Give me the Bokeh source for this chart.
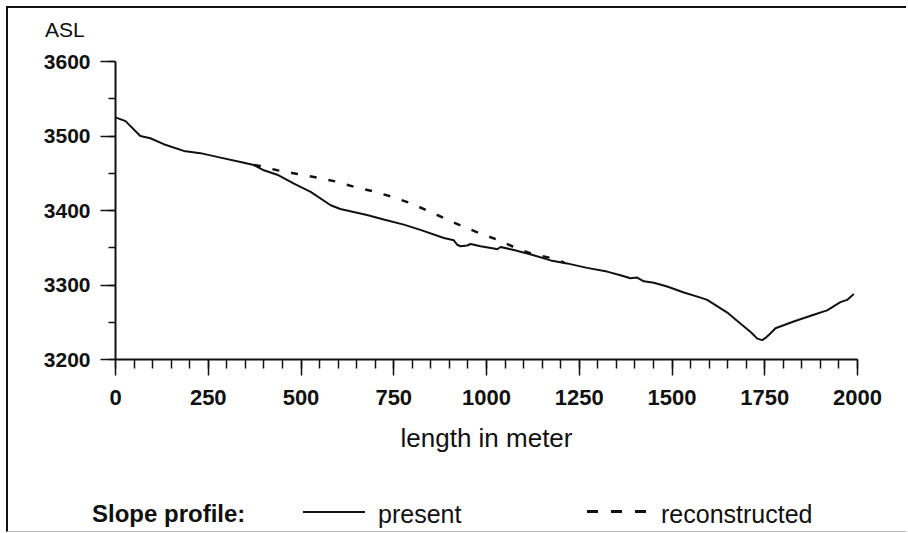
from bokeh.plotting import figure
from bokeh.models import Range1d, SingleIntervalTicker, Div
from bokeh.layouts import column
from bokeh.embed import file_html
from bokeh.resources import INLINE

# ---- data ----
present_x = [0, 27, 67, 94, 130, 184, 229, 283, 337, 373, 400, 436, 481, 526, 580, 606,
             678, 723, 777, 822, 885, 912, 921, 930, 948, 957, 984, 1020, 1029, 1038, 1074,
             1127, 1173, 1217, 1271, 1325, 1361, 1388, 1406, 1424, 1451, 1487, 1532, 1577,
             1595, 1649, 1685, 1712, 1730, 1743, 1752, 1765, 1779, 1828, 1882, 1918, 1954,
             1972, 1990]
present_y = [3525, 3520, 3500, 3497, 3489, 3480, 3477, 3471, 3465, 3461, 3454, 3448, 3436,
             3425, 3407, 3402, 3394, 3388, 3381, 3374, 3363, 3360, 3354, 3352, 3353, 3355,
             3352, 3349, 3348, 3351, 3347, 3340, 3333, 3329, 3323, 3318, 3313, 3309, 3310,
             3305, 3303, 3298, 3290, 3283, 3280, 3263, 3248, 3237, 3228, 3226, 3229, 3235,
             3242, 3251, 3260, 3266, 3277, 3280, 3288]

recon_x = [373, 386, 436, 490, 544, 593, 642, 692, 741, 795, 840, 885, 934, 984, 1033,
           1078, 1127, 1177, 1210]
recon_y = [3461, 3460, 3454, 3449, 3444, 3439, 3432, 3426, 3419, 3410, 3400, 3390, 3379,
           3369, 3360, 3350, 3341, 3336, 3330]

x_label = "length in meter"
y_label = "ASL"
legend_title = "Slope profile:"
series_names = ["present", "reconstructed"]

FONT = "Liberation Sans"
INK = "#111111"

# ---------------- top strip with the y-axis caption ----------------
top = Div(text=(f'<div style="position:relative;width:900px;height:40px;'
                f'font-family:\'{FONT}\';color:{INK};">'
                f'<span style="position:absolute;left:37px;top:10px;line-height:24px;'
                f'font-size:21px;white-space:nowrap;">{y_label}</span></div>'),
          width=900, height=40)
top.styles = {"border-top": "2px solid #111", "border-left": "2px solid #111",
              "margin": "0", "padding": "0"}

# ---------------- main chart ----------------
p = figure(width=900, height=430, x_range=Range1d(0, 2000), y_range=Range1d(3200, 3600),
           output_backend="svg", toolbar_location=None,
           min_border_left=107, min_border_right=51, min_border_top=15, min_border_bottom=117)
p.styles = {"border-left": "2px solid #111"}
p.outline_line_color = None
p.grid.visible = False

p.line(present_x, present_y, line_color=INK, line_width=2)
p.line(recon_x, recon_y, line_color=INK, line_width=2.5, line_dash="7 12")

xa = p.xaxis[0]
xa.ticker = SingleIntervalTicker(interval=250, num_minor_ticks=5)
ya = p.yaxis[0]
ya.ticker = SingleIntervalTicker(interval=100, num_minor_ticks=2)
for ax in (xa, ya):
    ax.axis_line_width = 2
    ax.axis_line_color = INK
    ax.major_tick_line_color = INK
    ax.minor_tick_line_color = INK
    ax.major_tick_line_width = 1.5
    ax.minor_tick_line_width = 1.5
    ax.major_tick_in = 0
    ax.minor_tick_in = 0
    ax.major_label_text_font = FONT
    ax.major_label_text_font_style = "bold"
    ax.major_label_text_color = INK
xa.major_tick_out = 16
xa.minor_tick_out = 9
ya.major_tick_out = 15
ya.minor_tick_out = 7
xa.major_label_text_font_size = "22px"
ya.major_label_text_font_size = "21px"
ya.major_label_standoff = 10
xa.major_label_standoff = 14
xa.axis_label = x_label
xa.axis_label_text_font = FONT
xa.axis_label_text_font_style = "normal"
xa.axis_label_text_font_size = "26px"
xa.axis_label_text_color = INK
xa.axis_label_standoff = 15

# ---------------- legend strip ----------------
def span(left, txt, size, weight):
    return (f'<span style="position:absolute;left:{left}px;top:24px;line-height:28px;'
            f'font-size:{size}px;font-weight:{weight};white-space:nowrap;">{txt}</span>')

legend_html = (
    f'<div style="position:relative;width:900px;height:56px;font-family:\'{FONT}\';color:{INK};">'
    + span(84, legend_title, 24, "bold")
    + '<div style="position:absolute;left:295px;top:35px;width:62px;height:2px;background:#111;"></div>'
    + span(370, series_names[0], 25, "normal")
    + '<div style="position:absolute;left:579px;top:34px;width:60px;height:3px;'
      'background:repeating-linear-gradient(to right,#111 0 11px,transparent 11px 24px);"></div>'
    + span(653, series_names[1], 25, "normal")
    + '</div>'
)
leg = Div(text=legend_html, width=900, height=56)
leg.styles = {"border-left": "2px solid #111", "border-bottom": "1px solid #bbb",
              "margin": "0", "padding": "0"}

layout = column(top, p, leg, spacing=0)
layout.styles = {"padding-left": "6px", "padding-top": "6px"}

open("out.html", "w").write(file_html(layout, INLINE))
